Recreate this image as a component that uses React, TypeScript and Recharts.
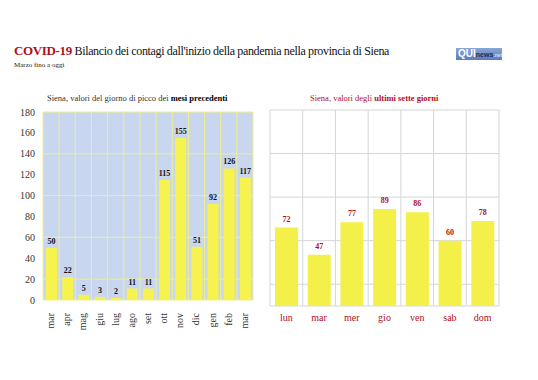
import React from "react";
import { Bar, BarChart, CartesianGrid, LabelList, XAxis, YAxis } from "recharts";

const mesi = ["mar", "apr", "mag", "giu", "lug", "ago", "set", "ott", "nov", "dic", "gen", "feb", "mar"];
const picchi = [50, 22, 5, 3, 2, 11, 11, 115, 155, 51, 92, 126, 117];

const giorni = ["lun", "mar", "mer", "gio", "ven", "sab", "dom"];
const ultimi = [72, 47, 77, 89, 86, 60, 78];

const yTicks = [0, 20, 40, 60, 80, 100, 120, 140, 160, 180];

const datiMesi = mesi.map((m, i) => ({ mese: m, valore: picchi[i] }));
const datiGiorni = giorni.map((g, i) => ({ giorno: g, valore: ultimi[i] }));

const SERIF = "'Liberation Serif', 'DejaVu Serif', serif";
const RED = "#b0101c";

// grid lines between categories, not through their centres
const boundaries = (n: number) => ({ offset }: any) => {
  const out: number[] = [];
  for (let i = 0; i <= n; i++) out.push(offset.left + (i * offset.width) / n);
  return out;
};

const MeseTick = ({ x, y, payload }: any) => (
  <g transform={`translate(${x},${y})`}>
    <text
      transform="rotate(-90)"
      x={-5}
      dy={3}
      textAnchor="end"
      fontSize={10}
      fontFamily={SERIF}
      fill="#333"
    >
      {payload.value}
    </text>
  </g>
);

export default function App() {
  return (
    <div style={{ position: "absolute", left: 0, top: 0, width: 538, height: 380, background: "#fff", fontFamily: SERIF }}>
      <div
        style={{
          position: "absolute",
          left: 14,
          top: 43,
          fontSize: 12,
          letterSpacing: "-0.35px",
          whiteSpace: "nowrap",
          color: "#111",
        }}
      >
        <b style={{ color: RED, fontSize: 13 }}>COVID-19</b> Bilancio dei contagi dall'inizio della pandemia nella provincia di Siena
      </div>
      <div style={{ position: "absolute", left: 14, top: 61, fontSize: 7, color: "#222" }}>Marzo fino a oggi</div>
      <div
        style={{
          position: "absolute",
          left: 456,
          top: 48,
          width: 46,
          height: 12,
          background: "linear-gradient(#8aa6d6, #5a7bbd)",
          fontFamily: "'Liberation Sans', sans-serif",
          fontSize: 10,
          lineHeight: "12px",
          color: "#fff",
          fontWeight: 700,
          paddingLeft: 2,
          boxSizing: "border-box",
        }}
      >
        QUI<span style={{ fontSize: 7, color: "#1c2c5c" }}>news</span>
        <span style={{ fontSize: 5, color: "#dde" }}>.net</span>
      </div>

      <div style={{ position: "absolute", left: 47, top: 93, fontSize: 8.5, color: "#333", whiteSpace: "nowrap" }}>
        Siena, valori del giorno di picco dei <b style={{ color: "#000" }}>mesi precedenti</b>
      </div>
      <div style={{ position: "absolute", left: 310, top: 93, fontSize: 8.5, color: RED, whiteSpace: "nowrap" }}>
        Siena, valori degli <b>ultimi sette giorni</b>
      </div>

      <div style={{ position: "absolute", left: 0, top: 100 }}>
        <BarChart width={270} height={240} data={datiMesi} margin={{ top: 12, right: 17, left: 13, bottom: 5 }}>
          <CartesianGrid
            fill="#c9d6ef"
            stroke="#eef08a"
            strokeWidth={1}
            verticalCoordinatesGenerator={boundaries(mesi.length)}
          />
          <XAxis dataKey="mese" height={35} tickLine={false} axisLine={false} interval={0} tick={<MeseTick />} />
          <YAxis
            width={30}
            domain={[0, 180]}
            ticks={yTicks}
            tickLine={false}
            axisLine={false}
            tick={{ fontSize: 10, fontFamily: SERIF, fill: "#333" }}
          />
          <Bar dataKey="valore" fill="#f6f24e" barSize={11} isAnimationActive={false}>
            <LabelList
              dataKey="valore"
              position="top"
              offset={4}
              fill="#111"
              fontSize={8}
              fontWeight={700}
              fontFamily={SERIF}
            />
          </Bar>
        </BarChart>
      </div>

      <div style={{ position: "absolute", left: 260, top: 100 }}>
        <BarChart width={270} height={240} data={datiGiorni} margin={{ top: 10, right: 31, left: 10, bottom: 9 }}>
          <CartesianGrid
            fill="#fff"
            stroke="#d6d6d6"
            strokeWidth={1}
            verticalCoordinatesGenerator={boundaries(giorni.length)}
          />
          <XAxis
            dataKey="giorno"
            height={25}
            tickLine={false}
            axisLine={false}
            interval={0}
            tick={{ fontSize: 10, fontFamily: SERIF, fill: RED }}
          />
          <YAxis hide domain={[0, 180]} ticks={yTicks} />
          <Bar dataKey="valore" fill="#f3f04a" barSize={23} isAnimationActive={false}>
            <LabelList
              dataKey="valore"
              position="top"
              offset={6}
              fill={RED}
              fontSize={8}
              fontWeight={700}
              fontFamily={SERIF}
            />
          </Bar>
        </BarChart>
      </div>
    </div>
  );
}
